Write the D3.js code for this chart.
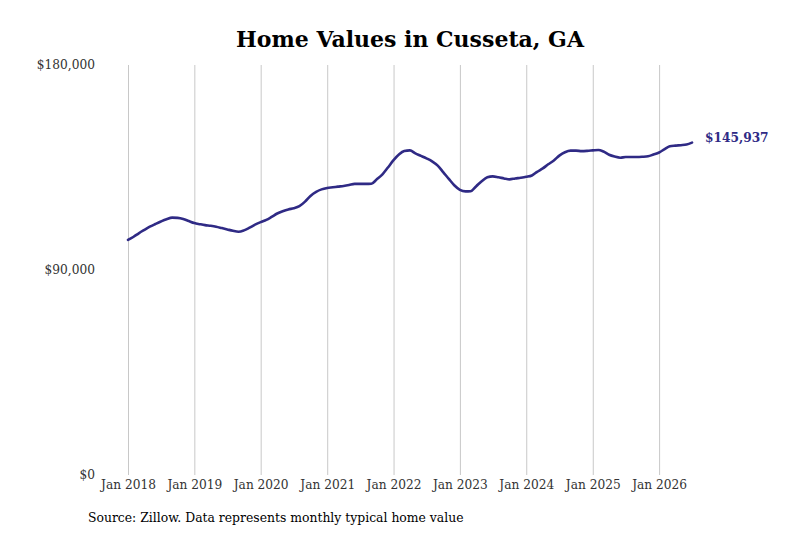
<!DOCTYPE html>
<html>
<head>
<meta charset="utf-8">
<script src="https://cdn.jsdelivr.net/npm/d3@7"></script>
<style>
  body { margin: 0; background: #fff; }
  svg text { font-family: "DejaVu Serif", serif; }
</style>
</head>
<body>
<svg id="chart" width="800" height="533"></svg>
<script>
// --- Data (monthly typical home value, Jan 2018 onward) ---
const startMonth = "2018-01";
const homeValues = [
  103200, 104600, 106100, 107600, 109000, 110200, 111300, 112300, 113000, 112900, 112400, 111500,
  110600, 110100, 109700, 109400, 109000, 108400, 107800, 107200, 106800, 107400, 108600, 109900,
  111000, 112000, 113300, 114800, 115800, 116600, 117100, 118000, 120000, 122500, 124300, 125400,
  126000, 126300, 126600, 126900, 127300, 127800, 127800, 127800, 127900, 129800, 132000, 135000,
  138200, 140800, 142200, 142500, 141200, 140100, 139000, 137700, 135800, 133000, 130000, 127200,
  125200, 124500, 124600, 126800, 129000, 130700, 131100, 130700, 130200, 129800, 130200, 130500,
  130900, 131500, 133100, 134600, 136400, 138100, 140200, 141700, 142400, 142400, 142200, 142300,
  142500, 142700, 142000, 140600, 139800, 139300, 139600, 139600, 139600, 139700, 139900, 140700,
  141600, 143100, 144300, 144600, 144800, 145100, 145937
];
const yTicks = [0, 90000, 180000];
const xTickYears = [2018, 2019, 2020, 2021, 2022, 2023, 2024, 2025, 2026];
const titleText = "Home Values in Cusseta, GA";
const sourceText = "Source: Zillow. Data represents monthly typical home value";

// --- Setup ---
const svg = d3.select("#chart");
const margin = { top: 65, left: 128, bottom: 58, right: 108 };
const width = 800, height = 533;
const lineColor = "#2f2a85";
const serif = "'DejaVu Serif', serif";

const parseMonth = d3.timeParse("%Y-%m");
const start = parseMonth(startMonth);
const data = homeValues.map((v, i) => ({ date: d3.timeMonth.offset(start, i), value: v }));

const x = d3.scaleTime()
  .domain([start, data[data.length - 1].date])
  .range([margin.left, width - margin.right]);
const y = d3.scaleLinear()
  .domain([0, 180000])
  .range([height - margin.bottom, margin.top]);

// Title
svg.append("text")
  .attr("x", 410)
  .attr("y", 47)
  .attr("text-anchor", "middle")
  .attr("font-family", serif)
  .attr("font-size", 22)
  .attr("font-weight", "bold")
  .attr("fill", "#000")
  .text(titleText);

// Vertical grid lines + x labels
const xTicks = xTickYears.map(yr => new Date(yr, 0, 1));
const xAxis = d3.axisBottom(x)
  .tickValues(xTicks)
  .tickFormat(d3.timeFormat("Jan %Y"))
  .tickSize(-(y(0) - y(180000)))
  .tickSizeOuter(0);
const gx = svg.append("g")
  .attr("transform", `translate(0,${y(0)})`)
  .call(xAxis);
gx.select(".domain").remove();
gx.selectAll(".tick line").attr("stroke", "#c8c8c8").attr("stroke-width", 1);
gx.selectAll(".tick text")
  .attr("y", 5)
  .attr("dy", "0.71em")
  .attr("font-size", 12.2)
  .attr("font-family", serif)
  .attr("fill", "#333");

// Y labels
const yAxis = d3.axisLeft(y)
  .tickValues(yTicks)
  .tickFormat(d => "$" + d3.format(",")(d))
  .tickSize(0);
const gy = svg.append("g")
  .attr("transform", `translate(95,0)`)
  .call(yAxis);
gy.select(".domain").remove();
gy.selectAll(".tick text")
  .attr("x", 0)
  .attr("font-size", 12.2)
  .attr("font-family", serif)
  .attr("fill", "#333");

// Line
const line = d3.line()
  .x(d => x(d.date))
  .y(d => y(d.value))
  .curve(d3.curveMonotoneX);
svg.append("path")
  .datum(data)
  .attr("fill", "none")
  .attr("stroke", lineColor)
  .attr("stroke-width", 2.6)
  .attr("stroke-linejoin", "round")
  .attr("stroke-linecap", "round")
  .attr("d", line);

// End label
const last = data[data.length - 1];
svg.append("text")
  .attr("x", x(last.date) + 13)
  .attr("y", y(last.value) - 5)
  .attr("dy", "0.35em")
  .attr("font-family", serif)
  .attr("font-size", 12.2)
  .attr("font-weight", "bold")
  .attr("fill", lineColor)
  .text("$" + d3.format(",")(last.value));

// Source note
svg.append("text")
  .attr("x", 88)
  .attr("y", 522)
  .attr("font-family", serif)
  .attr("font-size", 12.4)
  .attr("fill", "#000")
  .text(sourceText);
</script>
</body>
</html>
